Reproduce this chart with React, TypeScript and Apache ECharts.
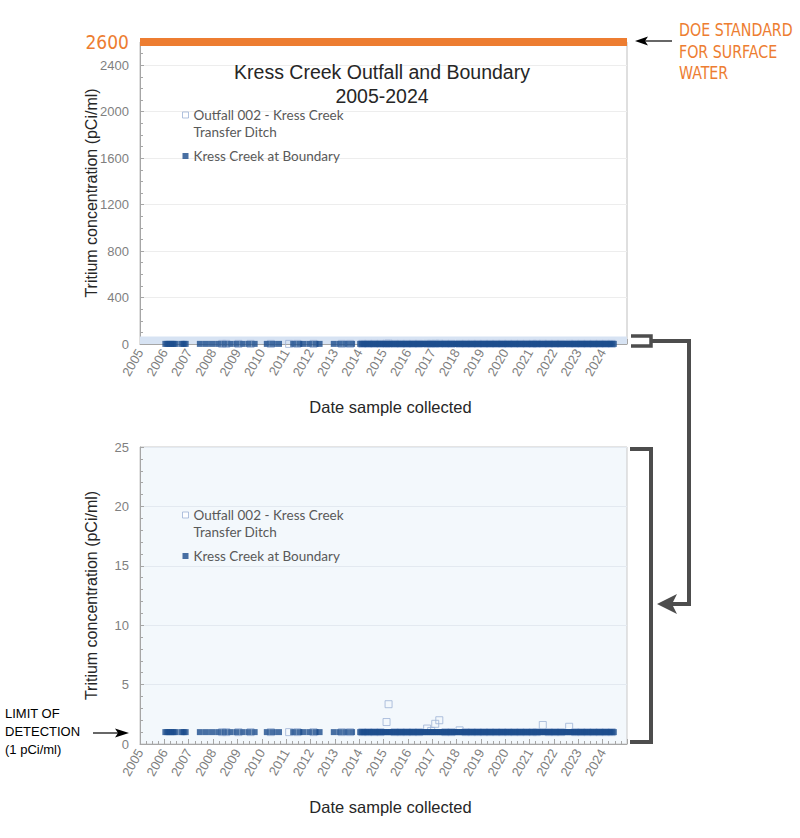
import React, { useEffect, useRef } from "react";
import * as echarts from "echarts";

// ---- data ----
const OUTFALL = "Outfall 002 - Kress Creek Transfer Ditch";
const BOUNDARY = "Kress Creek at Boundary";

// Kress Creek at Boundary: sampled months per year; every result reported at the 1 pCi/ml detection limit
const boundarySampling: Array<[number, number[]]> = [
  [2006, [1, 2, 3, 4, 5, 6, 9, 10, 11]],
  [2007, [6, 9, 12]],
  [2008, [3, 6, 9, 12]],
  [2009, [3, 6, 9]],
  [2010, [3, 6, 9]],
  [2011, [4, 7, 9, 12]],
  [2012, [3, 5, 12]],
  [2013, [3, 6, 9]],
  [2014, [1, 2, 3, 4, 5, 6, 7, 8, 9, 10, 11, 12]],
  [2015, [1, 2, 3, 4, 5, 6, 7, 8, 9, 10, 11, 12]],
  [2016, [1, 2, 3, 4, 5, 6, 7, 8, 9, 10, 11, 12]],
  [2017, [1, 2, 3, 4, 5, 6, 7, 8, 9, 10, 11, 12]],
  [2018, [1, 2, 3, 4, 5, 6, 7, 8, 9, 10, 11, 12]],
  [2019, [1, 2, 3, 4, 5, 6, 7, 8, 9, 10, 11, 12]],
  [2020, [1, 2, 3, 4, 5, 6, 7, 8, 9, 10, 11, 12]],
  [2021, [1, 2, 3, 4, 5, 6, 7, 8, 9, 10, 11, 12]],
  [2022, [1, 2, 3, 4, 5, 6, 7, 8, 9, 10, 11, 12]],
  [2023, [1, 2, 3, 4, 5, 6, 7, 8, 9, 10, 11, 12]],
  [2024, [1, 2, 3, 4, 5, 6]],
];
const boundaryResult = 1; // pCi/ml

// Outfall 002 samples: [year-month, pCi/ml]
const outfallSamples: Array<[string, number]> = [
  ["2008-05", 1], ["2008-07", 1], ["2009-01", 1], ["2009-07", 1],
  ["2010-05", 1], ["2011-02", 1], ["2011-06", 1], ["2012-02", 1],
  ["2013-04", 1], ["2013-08", 1],
  ["2014-02", 1], ["2014-05", 1], ["2014-08", 1], ["2014-11", 1],
  ["2015-02", 1.85], ["2015-03", 3.35], ["2015-06", 1], ["2015-09", 1], ["2015-12", 1],
  ["2016-03", 1], ["2016-06", 1], ["2016-10", 1.3], ["2016-12", 1.1],
  ["2017-02", 1.7], ["2017-04", 2.0], ["2017-07", 1], ["2017-10", 1],
  ["2018-02", 1.15], ["2018-05", 1], ["2018-08", 1], ["2018-11", 1],
  ["2019-02", 1], ["2019-05", 1], ["2019-08", 1], ["2019-11", 1],
  ["2020-02", 1], ["2020-05", 1], ["2020-08", 1], ["2020-11", 1],
  ["2021-02", 1], ["2021-04", 1], ["2021-07", 1.6], ["2021-10", 1],
  ["2022-01", 1], ["2022-04", 1], ["2022-08", 1.45], ["2022-11", 1],
  ["2023-02", 1], ["2023-05", 1], ["2023-08", 1], ["2023-11", 1],
  ["2024-02", 1], ["2024-05", 1],
];

const doeStandard = 2600; // pCi/ml
const topAxis = { min: 0, max: 2600, interval: 400 };
const zoomAxis = { min: 0, max: 25, interval: 5 };
const yearAxis = { min: 2005, max: 2025, interval: 1 };

// ---- helpers ----
const toYear = (ym: string) => {
  const [y, m] = ym.split("-").map(Number);
  return y + (m - 0.5) / 12;
};
const boundaryPoints: number[][] = [];
boundarySampling.forEach(([y, months]) =>
  months.forEach((m) => boundaryPoints.push([y + (m - 0.5) / 12, boundaryResult]))
);
const outfallPoints = outfallSamples.map(([d, v]) => [toYear(d), v]);

const ARIAL = "'Liberation Sans', Arial, sans-serif";
const NARROW = "'Liberation Sans Narrow', 'DejaVu Sans Condensed', 'Liberation Sans', sans-serif";
const LEG = "Lato, 'Open Sans', sans-serif";
const DARK_BLUE = "#1b4c8c";
const LIGHT_BLUE = "#9db3d6";
const ORANGE = "#ed7d31";
const AXIS_GRAY = "#a6a6a6";
const BRACKET = "#4d4d4d";

function xAxisFor(gridIndex: number) {
  return {
    type: "value",
    gridIndex,
    ...yearAxis,
    axisLine: { show: true, lineStyle: { color: AXIS_GRAY } },
    axisTick: { show: true, inside: true, length: 5, lineStyle: { color: AXIS_GRAY } },
    minorTick: { show: true, splitNumber: 4, length: 3, lineStyle: { color: AXIS_GRAY } },
    splitLine: { show: false },
    axisLabel: {
      rotate: 60,
      color: "#7f7f7f",
      fontSize: 13,
      fontFamily: ARIAL,
      margin: 6,
      showMinLabel: true,
      showMaxLabel: false,
      formatter: (v: number) => (v >= 2025 ? "" : String(v)),
    },
    name: "Date sample collected",
    nameLocation: "middle",
    nameGap: 54,
    nameMoveOverlap: false,
    nameTextStyle: { fontSize: 16.5, color: "#262626", fontFamily: ARIAL, padding: [0, 0, 0, 14] },
  };
}

function legendAt(top: number) {
  return {
    left: 182,
    top,
    orient: "vertical",
    padding: 0,
    itemWidth: 6,
    itemHeight: 6,
    itemGap: 7,
    selectedMode: false,
    textStyle: { fontFamily: LEG, fontSize: 13.5, color: "#595959", lineHeight: 17 },
    formatter: (n: string) =>
      n === OUTFALL ? "\nOutfall 002 - Kress Creek\nTransfer Ditch" : n,
    data: [
      {
        name: OUTFALL,
        icon: "rect",
        itemStyle: { color: "#ffffff", borderColor: LIGHT_BLUE, borderWidth: 1 },
      },
      { name: BOUNDARY, icon: "rect", itemStyle: { color: DARK_BLUE, borderWidth: 0 } },
    ],
  };
}

function yName() {
  return {
    name: "Tritium concentration (pCi/ml)",
    nameLocation: "middle",
    nameGap: 41,
    nameMoveOverlap: false,
    nameTextStyle: { fontSize: 16, color: "#262626", fontFamily: ARIAL },
  };
}

export default function App() {
  const ref = useRef<HTMLDivElement>(null);
  useEffect(() => {
    if (!ref.current) return;
    const chart = echarts.init(ref.current, null, { renderer: "svg" });
    const option: any = {
      animation: false,
      backgroundColor: "#ffffff",
      title: {
        text: "Kress Creek Outfall and Boundary\n2005-2024",
        left: 377,
        top: 55,
        textAlign: "center",
        textStyle: { fontFamily: ARIAL, fontSize: 19.5, fontWeight: "normal", color: "#262626", lineHeight: 24 },
      },
      legend: [legendAt(89.5), legendAt(489.5)],
      grid: [
        { left: 140, right: 173, top: 42, height: 302, show: true, borderColor: "#bfbfbf", borderWidth: 1, backgroundColor: "rgba(0,0,0,0)" },
        { left: 140, right: 173, top: 447, height: 297, show: true, borderColor: "#c9c9c9", borderWidth: 1, backgroundColor: "#f3f8fc" },
      ],
      xAxis: [xAxisFor(0), xAxisFor(1)],
      yAxis: [
        {
          type: "value",
          gridIndex: 0,
          ...topAxis,
          axisLine: { show: true, lineStyle: { color: AXIS_GRAY } },
          axisTick: { show: true, inside: true, length: 4, lineStyle: { color: AXIS_GRAY } },
          minorTick: { show: true, splitNumber: 4, length: 3, lineStyle: { color: AXIS_GRAY } },
          splitLine: { show: true, lineStyle: { color: "#ededed" } },
          axisLabel: {
            color: "#7f7f7f",
            fontSize: 13,
            fontFamily: ARIAL,
            margin: 11,
            formatter: (v: number) => (v === doeStandard ? "{o|" + v + "}" : String(v)),
            rich: { o: { color: ORANGE, fontSize: 19, fontFamily: NARROW } },
          },
          ...yName(),
        },
        {
          type: "value",
          gridIndex: 1,
          ...zoomAxis,
          axisLine: { show: true, lineStyle: { color: AXIS_GRAY } },
          axisTick: { show: true, inside: true, length: 4, lineStyle: { color: AXIS_GRAY } },
          minorTick: { show: true, splitNumber: 5, length: 3, lineStyle: { color: AXIS_GRAY } },
          splitLine: { show: true, lineStyle: { color: "#e3e9f0" } },
          axisLabel: { color: "#7f7f7f", fontSize: 13, fontFamily: ARIAL, margin: 11 },
          ...yName(),
        },
      ],
      series: [
        {
          type: "scatter",
          name: OUTFALL,
          xAxisIndex: 0,
          yAxisIndex: 0,
          data: outfallPoints,
          symbol: "rect",
          symbolSize: 7,
          clip: false,
          itemStyle: { color: "rgba(255,255,255,0)", borderColor: LIGHT_BLUE, borderWidth: 1 },
          z: 2,
          markArea: {
            silent: true,
            itemStyle: { color: "#d7e3f3" },
            data: [[{ yAxis: 0 }, { yAxis: 65 }]],
          },
        },
        {
          type: "scatter",
          name: BOUNDARY,
          xAxisIndex: 0,
          yAxisIndex: 0,
          data: boundaryPoints,
          symbol: "rect",
          symbolSize: 6,
          clip: false,
          itemStyle: { color: DARK_BLUE },
          z: 3,
          markLine: {
            silent: true,
            symbol: ["none", "none"],
            label: { show: false },
            lineStyle: { color: ORANGE, width: 8, type: "solid" },
            data: [{ yAxis: doeStandard }],
          },
        },
        {
          type: "scatter",
          name: OUTFALL,
          xAxisIndex: 1,
          yAxisIndex: 1,
          data: outfallPoints,
          symbol: "rect",
          symbolSize: 7,
          itemStyle: { color: "rgba(255,255,255,0)", borderColor: LIGHT_BLUE, borderWidth: 1 },
          z: 2,
        },
        {
          type: "scatter",
          name: BOUNDARY,
          xAxisIndex: 1,
          yAxisIndex: 1,
          data: boundaryPoints,
          symbol: "rect",
          symbolSize: 6,
          itemStyle: { color: DARK_BLUE },
          z: 3,
        },
      ],
      graphic: [
        // DOE standard annotation
        {
          type: "text",
          left: 679,
          top: 20,
          scaleX: 0.93,
          style: {
            text: "DOE STANDARD\nFOR SURFACE\nWATER",
            fill: ORANGE,
            fontSize: 17,
            fontFamily: NARROW,
            lineHeight: 21.5,
          },
        },
        { type: "line", shape: { x1: 672, y1: 41, x2: 640, y2: 41 }, style: { stroke: "#000", lineWidth: 1.2 } },
        { type: "polygon", shape: { points: [[635, 41], [648, 36.5], [645, 41], [648, 45.5]] }, style: { fill: "#000" } },
        // Limit of detection annotation
        {
          type: "text",
          left: 5,
          top: 704,
          style: {
            text: "LIMIT OF\nDETECTION\n(1 pCi/ml)",
            fill: "#000",
            fontSize: 13,
            fontFamily: ARIAL,
            lineHeight: 18,
          },
        },
        { type: "line", shape: { x1: 93, y1: 733, x2: 122, y2: 733 }, style: { stroke: "#000", lineWidth: 1.2 } },
        { type: "polygon", shape: { points: [[129, 733], [115, 728.5], [118, 733], [115, 737.5]] }, style: { fill: "#000" } },
        // brackets and connector
        {
          type: "polyline",
          shape: { points: [[631, 336], [651, 336], [651, 346], [631, 346]] },
          style: { stroke: BRACKET, lineWidth: 3.5, fill: null },
        },
        {
          type: "polyline",
          shape: { points: [[651, 341], [689, 341], [689, 604], [670, 604]] },
          style: { stroke: BRACKET, lineWidth: 4, fill: null },
        },
        { type: "polygon", shape: { points: [[657, 604], [677, 594], [672, 604], [677, 614]] }, style: { fill: BRACKET } },
        {
          type: "polyline",
          shape: { points: [[630, 449], [651, 449], [651, 742], [630, 742]] },
          style: { stroke: BRACKET, lineWidth: 4, fill: null },
        },
      ],
    };
    chart.setOption(option);
    return () => chart.dispose();
  }, []);
  return (
    <div
      ref={ref}
      style={{ position: "absolute", left: 0, top: 0, width: 800, height: 838 }}
    />
  );
}
